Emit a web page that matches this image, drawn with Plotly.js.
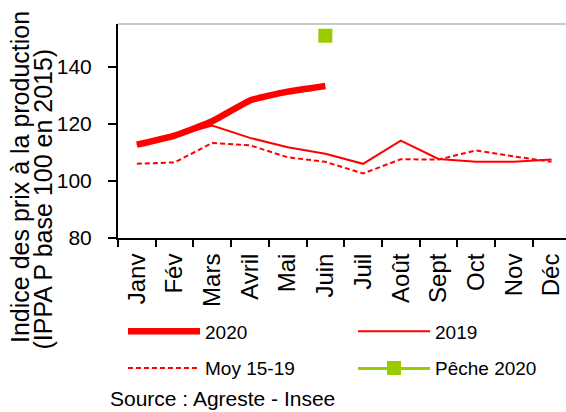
<!DOCTYPE html>
<html>
<head>
<meta charset="utf-8">
<script src="https://cdn.plot.ly/plotly-3.0.1.min.js"></script>
<style>
html,body{margin:0;padding:0;background:#fff;}
#chart{width:566px;height:412px;}
</style>
</head>
<body>
<div id="chart"></div>
<script>
const months = ["Janv","Fév","Mars","Avril","Mai","Juin","Juil","Août","Sept","Oct","Nov","Déc"];
const y2020 = [112.7,115.9,120.9,128.2,131.3,133.3];
const y2019 = [112.6,115.7,119.4,115.1,111.8,109.5,106.0,114.1,107.7,106.7,106.7,107.5];
const yMoy = [106.0,106.5,113.3,112.5,108.3,106.7,102.6,107.6,107.5,110.7,108.6,106.7];
const peche2020Month = ["Juin"];
const peche2020 = [150.9];
const yTickVals = [80,100,120,140];

const REG = "Liberation Sans, Arial, sans-serif";
const GREEN = "#99cc00";

const traces = [
  {x: months.slice(0, y2020.length), y: y2020, name: "2020", type: "scatter", mode: "lines",
   legend: "legend", legendgroup: "g1",
   line: {color: "#ff0000", width: 6.5, shape: "spline", smoothing: 0.4}},
  {x: months, y: y2019, name: "2019", type: "scatter", mode: "lines",
   legend: "legend2", legendgroup: "g2",
   line: {color: "#ff0000", width: 2}},
  {x: months, y: yMoy, name: "Moy 15-19", type: "scatter", mode: "lines",
   legend: "legend", legendgroup: "g3",
   line: {color: "#ff0000", width: 2, dash: "5px,3px"}},
  {x: peche2020Month, y: peche2020, name: "Pêche 2020", type: "scatter", mode: "lines+markers",
   legend: "legend2", legendgroup: "g4",
   line: {color: GREEN, width: 2}, marker: {symbol: "square", size: 14, color: GREEN}}
];

const W = 566, H = 412, ml = 118, mt = 24, mb = 174, mr = 0;
const pw = W - ml - mr, ph = H - mt - mb;
function px2x(p){ return (p - ml) / pw; }
function px2y(p){ return (H - mb - p) / ph; }

const legendBase = {
  orientation: "v", xanchor: "left", yanchor: "top",
  font: {family: REG, size: 19, color: "#000000"},
  itemwidth: 72, tracegroupgap: 9,
  bgcolor: "rgba(0,0,0,0)", borderwidth: 0, traceorder: "grouped"
};

const layout = {
  width: W, height: H,
  margin: {l: ml, r: mr, t: mt, b: mb, pad: 0, autoexpand: false},
  paper_bgcolor: "#ffffff", plot_bgcolor: "#ffffff",
  font: {family: REG, color: "#000000"},
  showlegend: true,
  xaxis: {
    type: "category", categoryarray: months, categoryorder: "array",
    range: [-0.5, -0.5 + pw / 37.7], automargin: false,
    showgrid: false, zeroline: false,
    showline: true, linecolor: "#000000", linewidth: 2,
    ticks: "outside", tickson: "boundaries", ticklen: 7, tickwidth: 2, tickcolor: "#000000",
    tickangle: -90, tickfont: {family: REG, size: 24, color: "#000000"},
    ticklabelstandoff: 4
  },
  yaxis: {
    range: [80, 155], tickvals: yTickVals, ticktext: yTickVals.map(String), automargin: false,
    showgrid: false, zeroline: false,
    showline: true, linecolor: "#000000", linewidth: 2,
    ticks: "outside", ticklen: 8, tickwidth: 2, tickcolor: "#000000",
    tickfont: {family: REG, size: 21, color: "#000000"},
    ticklabelstandoff: 12
  },
  shapes: [
    {type: "line", xref: "paper", yref: "paper", x0: 0, x1: 1, y0: 1, y1: 1,
     line: {color: "#c8c8c8", width: 2}},
    {type: "line", xref: "paper", yref: "paper", layer: "below",
     x0: px2x(358), x1: px2x(430), y0: px2y(369), y1: px2y(369),
     line: {color: GREEN, width: 2}}
  ],
  legend: Object.assign({}, legendBase, {x: px2x(123), y: px2y(312.5)}),
  legend2: Object.assign({}, legendBase, {x: px2x(353), y: px2y(312.5)}),
  annotations: [
    {text: "Indice des prix à la production", xref: "paper", yref: "paper",
     x: px2x(20), y: px2y(345), xanchor: "center", yanchor: "bottom",
     textangle: -90, showarrow: false, font: {family: REG, size: 25, color: "#000000"}},
    {text: "(IPPA P base 100 en 2015)", xref: "paper", yref: "paper",
     x: px2x(42), y: px2y(352), xanchor: "center", yanchor: "bottom",
     textangle: -90, showarrow: false, font: {family: REG, size: 25, color: "#000000"}},
    {text: "Source : Agreste - Insee", xref: "paper", yref: "paper",
     x: px2x(108), y: px2y(398), xanchor: "left", yanchor: "middle",
     showarrow: false, font: {family: REG, size: 21, color: "#000000"}}
  ]
};

Plotly.newPlot("chart", traces, layout, {displayModeBar: false, staticPlot: true});
</script>
</body>
</html>
